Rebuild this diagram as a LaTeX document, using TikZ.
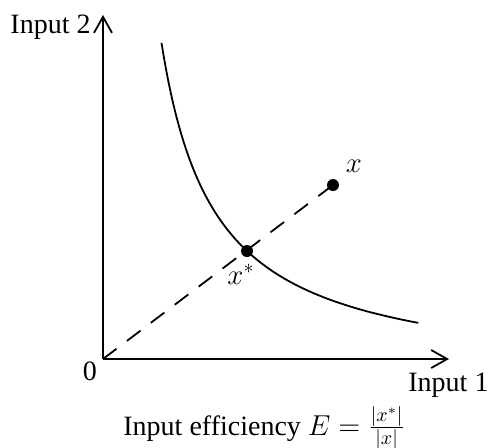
\documentclass[tikz,border=0pt]{standalone}
\usepackage{fontspec}
\setmainfont{Liberation Serif}
\usetikzlibrary{arrows.meta}
\begin{document}
\begin{tikzpicture}[x=0.5pt,y=-0.5pt,
  axis/.style={line width=0.9pt,-{Straight Barb[length=8pt,width=9pt,line width=0.9pt]}},
  curve/.style={line width=0.9pt},
  ray/.style={line width=0.9pt,dash pattern=on 8.5pt off 6.5pt},
  dot/.style={circle,fill=black,inner sep=0pt,minimum size=6pt},
  lbl/.style={font=\fontsize{14}{16}\selectfont,inner sep=0pt}]
\useasboundingbox (0,0) rectangle (489,447);
\coordinate (O) at (103,359);
\coordinate (ytip) at (103,15);
\coordinate (xtip) at (449,359);
\draw[axis] (O) -- (ytip);
\draw[axis] (O) -- (xtip);
\draw[curve] plot[domain=161.5:418.3,samples=120] (\x,{381.2-181/((\x-108)/100)});
\node[dot] (xs) at (247,251) {};
\node[dot] (xp) at (333,185) {};
\draw[ray] (O) -- (xp.center);
\node[lbl,anchor=base east] (l2) at (91,33) {Input 2};
\node[lbl,anchor=base west] (l1) at (408,391) {Input 1};
\node[lbl,anchor=base] (l0) at (90,380) {0};
\node[lbl,anchor=base] (lx) at (354,172) {$x$};
\node[lbl,anchor=base] (lxs) at (241,284) {$x^*$};
\node[lbl,anchor=base west] (le) at (123,435) {Input efficiency $E=\frac{|x^*|}{|x|}$};
\end{tikzpicture}
\end{document}
